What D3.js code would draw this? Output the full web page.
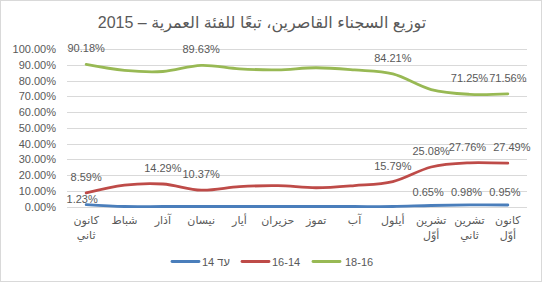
<!DOCTYPE html>
<html><head><meta charset="utf-8">
<script src="https://cdn.jsdelivr.net/npm/d3@7"></script>
<style>
html,body{margin:0;padding:0;background:#fff;}
svg{display:block;}
text{font-family:"Liberation Sans",Arial,"DejaVu Sans",sans-serif;fill:#595959;}
</style></head>
<body>
<svg id="c" width="542" height="282"></svg>
<script>
const title = "توزيع السجناء القاصرين، تبعًا للفئة العمرية – 2015";
const categories = [["كانون","ثاني"],["شباط"],["آذار"],["نيسان"],["أيار"],["حزيران"],["تموز"],["آب"],["أيلول"],["تشرين","أوّل"],["تشرين","ثاني"],["كانون","أوّل"]];
const seriesNames = ["עד 14","16-14","18-16"];
const under14 = [1.23,0,0,0,0,0,0,0,0,0.65,0.98,0.95];
const age14to16 = [8.59,13.6,14.29,10.37,12.6,13.2,11.9,13.3,15.79,25.08,27.76,27.49];
const age16to18 = [90.18,86.4,85.71,89.63,87.4,86.8,88.1,86.7,84.21,74.27,71.25,71.56];
const labeledUnder14 = [0,9,10,11];
const labeled14to16 = [0,2,3,8,9,10,11];
const labeled16to18 = [0,3,8,10,11];
const yTicks = [0,10,20,30,40,50,60,70,80,90,100];

const colors = ["#4A7EBB","#BE4B48","#98B954"];
const series = [
  {name:seriesNames[0], values:under14, labels:labeledUnder14, color:colors[0]},
  {name:seriesNames[1], values:age14to16, labels:labeled14to16, color:colors[1]},
  {name:seriesNames[2], values:age16to18, labels:labeled16to18, color:colors[2]}
];

const svg = d3.select("#c");
svg.append("rect").attr("x",0.5).attr("y",0.5).attr("width",541).attr("height",281)
  .attr("fill","#fff").attr("stroke","#d9d9d9");

svg.append("text").attr("x",262).attr("y",27.5).attr("text-anchor","middle")
  .attr("direction","rtl").style("font-size","16px").text(title);

const x = d3.scaleBand().domain(d3.range(categories.length)).range([67,527]).padding(0);
const y = d3.scaleLinear().domain([0,100]).range([206.5,49]);
const cx = i => x(i) + x.bandwidth()/2;

// gridlines
svg.append("g").selectAll("line").data(yTicks).join("line")
  .attr("x1",67).attr("x2",527)
  .attr("y1",d=>Math.round(y(d))+0.5).attr("y2",d=>Math.round(y(d))+0.5)
  .attr("stroke","#d9d9d9").attr("stroke-width",1);

// y axis labels
const yAxis = d3.axisLeft(y).tickValues(yTicks).tickSize(0).tickPadding(0)
  .tickFormat(d=>d.toFixed(2)+"%");
const gy = svg.append("g").attr("transform","translate(56,0)").call(yAxis);
gy.select(".domain").remove();
gy.selectAll("text").style("font-size","11px").attr("fill","#595959").style("font-family",null);

// x axis labels
const xg = svg.append("g");
categories.forEach((lines,i)=>{
  const t = xg.append("text").attr("x",cx(i)).attr("y",224).attr("text-anchor","middle")
    .attr("direction","rtl").style("font-size","11px");
  lines.forEach((ln,k)=>{
    t.append("tspan").attr("x",cx(i)).attr("dy",k===0?0:15).text(ln);
  });
});

const line = d3.line().x((d,i)=>cx(i)).y(d=>y(d)).curve(d3.curveCatmullRom.alpha(0));
series.forEach(s=>{
  svg.append("path").attr("d",line(s.values)).attr("fill","none")
    .attr("stroke",s.color).attr("stroke-width",2.8).attr("stroke-linecap","round");
});

// data labels
series.forEach((s,si)=>{
  s.labels.forEach(i=>{
    let dx=0, dy=-12;
    if(si===0){ dy = (i===0)? -2 : -9; dx = (i===0)? -4 : -3; }
    if(si===1 && i===11){ dx = 4; }
    if(si===1 && i===10){ dx = -2; }
    svg.append("text").attr("x",cx(i)+dx).attr("y",y(s.values[i])+dy)
      .attr("text-anchor","middle").style("font-size","11px")
      .text(s.values[i].toFixed(2)+"%");
  });
});

// legend
const legend = [{x:172,tx:202},{x:242,tx:272},{x:313,tx:345}];
series.forEach((s,i)=>{
  const L = legend[i];
  svg.append("line").attr("x1",L.x).attr("x2",L.x+27).attr("y1",261.5).attr("y2",261.5)
    .attr("stroke",s.color).attr("stroke-width",2.8).attr("stroke-linecap","round");
  svg.append("text").attr("x",L.tx).attr("y",265.5).style("font-size","11px")
    .attr("direction", i===0 ? "rtl" : "ltr")
    .attr("text-anchor", i===0 ? "end" : "start")
    .text(s.name);
});
</script>
</body></html>
